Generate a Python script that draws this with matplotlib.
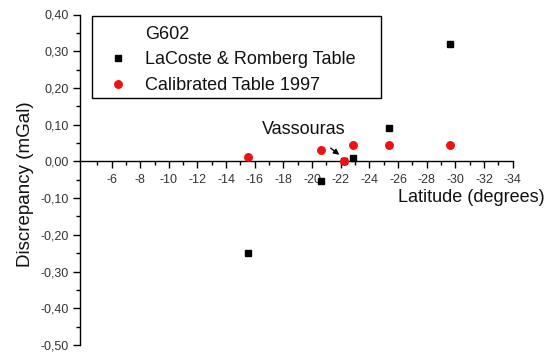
import matplotlib
matplotlib.use("Agg")
import matplotlib.pyplot as plt
from matplotlib.ticker import FixedLocator, FuncFormatter
from matplotlib.lines import Line2D
from matplotlib.patches import Rectangle

plt.rcParams['font.family'] = ['Liberation Sans', 'DejaVu Sans']

# Data
lat_lacoste = [-15.5, -20.65, -22.25, -22.85, -25.35, -29.65]
disc_lacoste = [-0.250, -0.053, 0.000, 0.010, 0.092, 0.321]
lat_calib = [-15.55, -20.65, -22.25, -22.85, -25.35, -29.65]
disc_calib = [0.013, 0.032, 0.000, 0.045, 0.044, 0.044]

series_names = ["LaCoste & Romberg Table", "Calibrated Table 1997"]
legend_title = "G602"
x_major = list(range(-6, -35, -2))
x_minor = list(range(-5, -34, -2))
y_major = [-0.5, -0.4, -0.3, -0.2, -0.1, 0.0, 0.1, 0.2, 0.3, 0.4]
y_minor = [-0.45, -0.35, -0.25, -0.15, -0.05, 0.05, 0.15, 0.25, 0.35]

W, H = 550, 352
fig = plt.figure(figsize=(5.5, 3.52), dpi=100)
ax = fig.add_axes([80 / W, 1 - 345 / H, (512.7 - 80) / W, (345 - 14.5) / H])

ax.plot(lat_lacoste, disc_lacoste, linestyle='none', marker='s', markersize=4.8,
        color='black', zorder=3)
ax.plot(lat_calib, disc_calib, linestyle='none', marker='o', markersize=5.4,
        color='#ee1111', markeredgecolor='#ee1111', zorder=4)

ax.set_xlim(-3.8, -34)
ax.set_ylim(-0.5, 0.4)

ax.spines['top'].set_visible(False)
ax.spines['right'].set_visible(False)
ax.spines['bottom'].set_position(('data', 0))
ax.spines['left'].set_linewidth(1.0)
ax.spines['bottom'].set_linewidth(1.0)

ax.xaxis.set_major_locator(FixedLocator(x_major))
ax.xaxis.set_minor_locator(FixedLocator(x_minor))
ax.yaxis.set_major_locator(FixedLocator(y_major))
ax.yaxis.set_minor_locator(FixedLocator(y_minor))
ax.xaxis.set_major_formatter(FuncFormatter(lambda v, p: f"{int(round(v))}"))
ax.yaxis.set_major_formatter(FuncFormatter(lambda v, p: f"{v:.2f}".replace('.', ',') if abs(v) > 1e-9 else "0,00"))

ax.tick_params(axis='both', which='major', direction='out', length=5, width=1,
               labelsize=9, labelcolor='#333333', color='black')
ax.tick_params(axis='both', which='minor', direction='out', length=3, width=1, color='black')
ax.tick_params(axis='x', which='major', pad=4)
ax.tick_params(axis='y', which='major', pad=3)

# Axis labels
fig.text(26 / W, 1 - 184 / H, "Discrepancy (mGal)", rotation=90, ha='center', va='center',
         fontsize=13.5, color='#111111')
fig.text(545 / W, 1 - 197 / H, "Latitude (degrees)", ha='right', va='center',
         fontsize=13, color='#111111')

# Annotation
ax.annotate("", xy=(-21.9, 0.018), xytext=(-21.3, 0.036),
            arrowprops=dict(arrowstyle='-|>', color='black', lw=1.0, mutation_scale=8,
                            shrinkA=0, shrinkB=0))
ax.text(-19.4, 0.088, "Vassouras", ha='center', va='center', fontsize=13, color='#111111')

# Legend
handles = [Line2D([], [], linestyle='none'),
           Line2D([], [], linestyle='none', marker='s', markersize=4.8, color='black'),
           Line2D([], [], linestyle='none', marker='o', markersize=5.4, color='#ee1111')]
labels = [legend_title] + series_names
leg = fig.legend(handles, labels, loc='upper left', bbox_to_anchor=(92 / W, 1 - 16 / H),
                 bbox_transform=fig.transFigure, frameon=False, fontsize=13,
                 handlelength=1.8, handletextpad=0.61, borderpad=0.53, borderaxespad=0,
                 labelspacing=0.48)
for t in leg.get_texts():
    t.set_color('#111111')
fig.patches.append(Rectangle((92 / W, 1 - 98 / H), (381 - 92) / W, (98 - 16) / H,
                             transform=fig.transFigure, fill=False, edgecolor='black',
                             linewidth=1.0, zorder=5))

fig.savefig("out.png", dpi=100)
